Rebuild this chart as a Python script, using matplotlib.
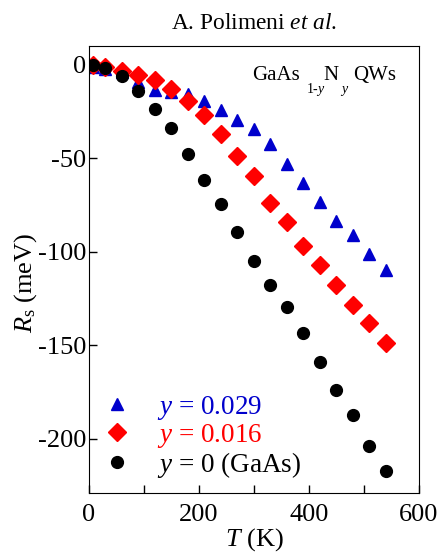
import numpy as np
import matplotlib.pyplot as plt

plt.rcParams['font.family'] = 'Liberation Serif'
plt.rcParams['mathtext.fontset'] = 'custom'
plt.rcParams['mathtext.rm'] = 'Liberation Serif'
plt.rcParams['mathtext.it'] = 'Liberation Serif:italic'

T = [8, 30, 60, 90, 120, 150, 180, 210, 240, 270, 300, 330, 360, 390, 420, 450, 480, 510, 540]
R_029 = [-1, -2.5, -4, -9, -13.7, -14.8, -15.5, -19.3, -24, -29.4, -34.4, -42.2, -52.9, -63.3,
         -73.4, -83.4, -90.9, -101.2, -110]
R_016 = [0, -1, -3.6, -5.7, -8, -12.8, -19.3, -26.7, -37, -49, -59.4, -74, -84.1, -97.1,
         -107.1, -117.6, -128.7, -138.3, -148.8]
R_0 = [0, -1.8, -6.2, -13.9, -23.7, -33.9, -47.8, -61.7, -74.5, -89.7, -104.8, -117.8,
       -129.8, -143.5, -159, -174.2, -187.2, -203.7, -217.5]

fig = plt.figure(figsize=(4.39, 5.52), dpi=100)
ax = fig.add_axes([0.2027, 0.1069, 0.7517, 0.8098])

ax.plot(T, R_029, '^', color='#0000cc', ms=9, label='$y$ = 0.029')
ax.plot(T, R_016, 'D', color='#ff0000', ms=9.5, label='$y$ = 0.016')
ax.plot(T, R_0, 'o', color='black', ms=8.5, label='$y$ = 0 (GaAs)')

ax.set_xlim(0, 600)
ax.set_ylim(-229, 10)
ax.set_xticks([0, 200, 400, 600])
ax.set_xticks([100, 300, 500], minor=True)
ax.set_yticks([0, -50, -100, -150, -200])
ax.set_yticklabels(['0', '-50', '-100', '-150', '-200'])
ax.tick_params(which='both', direction='in', labelsize=19, length=6, width=1)
ax.tick_params(which='minor', length=6)
ax.tick_params(axis='x', pad=8)
ax.tick_params(axis='y', pad=2)

ax.set_title('A. Polimeni $et$ $al.$', fontsize=16.8, pad=12)
ax.set_xlabel('$T$ (K)', fontsize=19, labelpad=0)
ax.set_ylabel('$R_{\\rm s}$ (meV)', fontsize=19)
ax.yaxis.set_label_coords(-0.152, 0.47)

# label inside the plot, letter-spaced
ax.text(0.494, 0.925, 'GaAs', transform=ax.transAxes, fontsize=15)
ax.text(0.658, 0.895, '1-$y$', transform=ax.transAxes, fontsize=10)
ax.text(0.709, 0.925, 'N', transform=ax.transAxes, fontsize=15)
ax.text(0.761, 0.895, '$y$', transform=ax.transAxes, fontsize=10)
ax.text(0.80, 0.925, 'QWs', transform=ax.transAxes, fontsize=15)

leg = ax.legend(loc='lower left', bbox_to_anchor=(-0.045, -0.025), frameon=False, fontsize=19.5,
                handletextpad=0.75, labelspacing=0.0, handlelength=1.4,
                labelcolor='markerfacecolor')

fig.savefig('out.png', dpi=100)
